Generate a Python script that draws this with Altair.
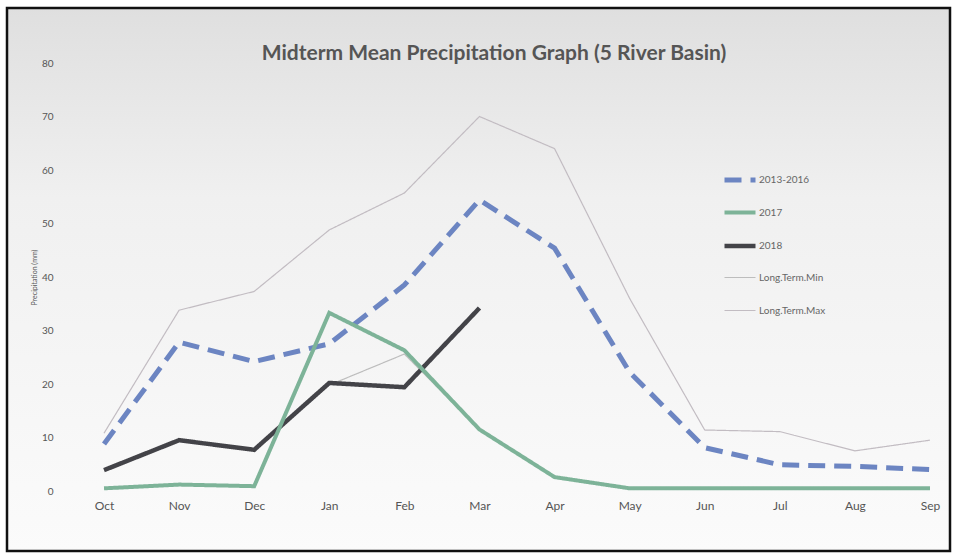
import altair as alt
import pandas as pd

months = ["Oct", "Nov", "Dec", "Jan", "Feb", "Mar", "Apr", "May", "Jun", "Jul", "Aug", "Sep"]
series_names = ["2013-2016", "2017", "2018", "Long.Term.Min", "Long.Term.Max"]

mean_2013_2016 = [8.8, 27.8, 24.2, 27.5, 38.5, 54.4, 45.4, 22.2, 8.1, 4.9, 4.6, 4.0]
y2017 = [0.5, 1.2, 0.9, 33.3, 26.3, 11.5, 2.6, 0.5, 0.5, 0.5, 0.5, 0.5]
y2018 = [3.9, 9.5, 7.7, 20.2, 19.4, 34.2]
lt_min = [3.9, 9.5, 7.7, 19.8, 25.6, 11.5, 2.6, 0.5, 0.5, 0.5, 0.5, 0.5]
lt_max = [10.8, 33.8, 37.3, 48.8, 55.7, 70.0, 64.0, 36.0, 11.4, 11.1, 7.5, 9.5]

colors = ["#6c85c2", "#7db398", "#434348", "#bdbdbd", "#c2bcc2"]
dashes = [[17, 9], [1, 0], [1, 0], [1, 0], [1, 0]]
widths = [5, 4, 4.5, 1.2, 1.2]

rows = []
for name, vals in zip(series_names, [mean_2013_2016, y2017, y2018, lt_min, lt_max]):
    for m, v in zip(months, vals):
        rows.append({"month": m, "value": v, "series": name})
df = pd.DataFrame(rows)

L, T = 89, 63
W, H = 856, 428

legend = alt.Legend(title=None, orient="none", legendX=633, legendY=99,
                    symbolType="stroke", symbolSize=961, labelFontSize=10,
                    labelColor="#666", labelFont="Lato", labelOffset=1,
                    rowPadding=5, padding=0, gridAlign="all")

base = alt.Chart(df).mark_line().encode(
    x=alt.X("month:N", sort=months, title=None,
            scale=alt.Scale(type="point", padding=0.2),
            axis=alt.Axis(labelAngle=0, ticks=False, domain=False, grid=False,
                          labelPadding=9, labelFontSize=12, labelColor="#555",
                          labelFont="Lato", zindex=1)),
    y=alt.Y("value:Q", title="Precipitation (mm)",
            scale=alt.Scale(domain=[0, 80], nice=False),
            axis=alt.Axis(values=list(range(0, 81, 10)), ticks=False, domain=False,
                          grid=False, labelPadding=36, labelFontSize=10,
                          labelColor="#555", labelFont="Lato", titleFontSize=7,
                          titleFontWeight="normal", titleColor="#555",
                          titleFont="Lato", titlePadding=4, zindex=1)),
    color=alt.Color("series:N", scale=alt.Scale(domain=series_names, range=colors),
                    legend=legend),
    strokeDash=alt.StrokeDash("series:N", scale=alt.Scale(domain=series_names, range=dashes),
                              legend=legend),
    strokeWidth=alt.StrokeWidth("series:N",
                                scale=alt.Scale(type="ordinal", domain=series_names, range=widths),
                                legend=legend),
)

draw_order = ["Long.Term.Max", "Long.Term.Min", "2013-2016", "2018", "2017"]
line_layers = [base.transform_filter(alt.datum.series == s) for s in draw_order]

bg = alt.Chart(pd.DataFrame({"k": [0]})).mark_rect(
    fill=alt.Gradient(gradient="linear", x1=0, x2=0, y1=0, y2=1,
                      stops=[alt.GradientStop(color="#dfdfdf", offset=0),
                             alt.GradientStop(color="#f0f0f0", offset=0.35),
                             alt.GradientStop(color="#fbfbfb", offset=1)]),
    stroke="#111", strokeWidth=2.5, clip=False
).encode(
    x=alt.value(7 - L), x2=alt.value(950 - L),
    y=alt.value(8 - T), y2=alt.value(551 - T)
)

chart = alt.layer(bg, *line_layers).properties(
    width=W, height=H,
    title=alt.TitleParams("Midterm Mean Precipitation Graph (5 River Basin)",
                          fontSize=21, font="Lato", fontWeight="bold",
                          color="#555", anchor="middle", frame="group", dx=-23,
                          offset=-57, zindex=1),
    autosize=alt.AutoSizeParams(type="none"),
    padding={"left": L, "top": T, "right": 954 - L - W, "bottom": 558 - T - H},
    background="white",
).configure_view(stroke=None)

chart.save("out.html", embed_options={"renderer": "svg", "actions": False})
